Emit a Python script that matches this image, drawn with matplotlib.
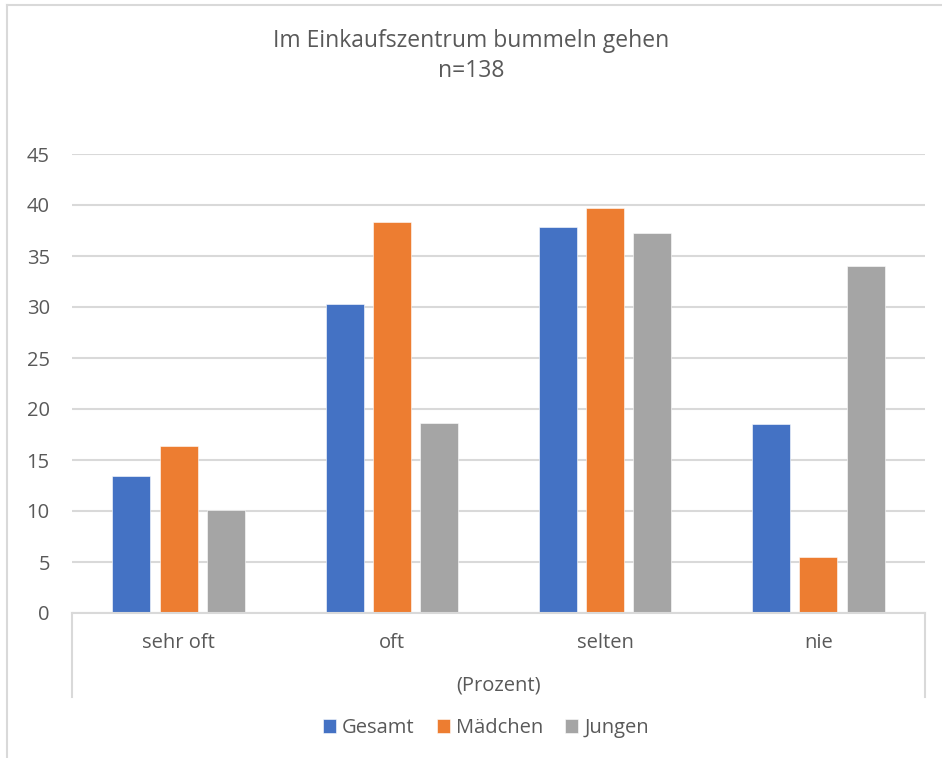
import matplotlib.pyplot as plt
from matplotlib.lines import Line2D
import numpy as np

plt.rcParams['font.family'] = ['Open Sans', 'DejaVu Sans']

title = 'Im Einkaufszentrum bummeln gehen\nn=138'
categories = ['sehr oft', 'oft', 'selten', 'nie']
axis_group = '(Prozent)'
series_names = ['Gesamt', 'Mädchen', 'Jungen']
gesamt = [13.4, 30.3, 37.8, 18.5]
maedchen = [16.4, 38.3, 39.7, 5.5]
jungen = [10.1, 18.6, 37.3, 34.0]
y_ticks = list(range(0, 50, 5))

colors = ['#4472c4', '#ed7d31', '#a5a5a5']
grid_color = '#d9d9d9'
text_color = '#595959'

fig = plt.figure(figsize=(9.42, 7.58), dpi=100)
ax = fig.add_axes([72 / 942, 1 - 613 / 758, 853 / 942, 459 / 758])

x = np.arange(len(categories))
offsets = [-0.222, 0.0, 0.222]
width = 0.178
for values, name, color, off in zip([gesamt, maedchen, jungen], series_names, colors, offsets):
    ax.bar(x + off, values, width, color=color, label=name, zorder=3,
           edgecolor='white', linewidth=0.4)

ax.set_xlim(-0.5, len(categories) - 0.5)
ax.set_ylim(0, 45)
ax.set_yticks(y_ticks)
ax.set_yticklabels([str(t) for t in y_ticks])
ax.yaxis.grid(True, color=grid_color, linewidth=1.5, zorder=0)
ax.tick_params(axis='y', length=0, pad=16, labelsize=14.5, labelcolor=text_color)
ax.set_xticks([])
for side in ['top', 'right', 'left']:
    ax.spines[side].set_visible(False)
ax.spines['bottom'].set_color(grid_color)
ax.spines['bottom'].set_linewidth(1.5)
ax.spines['bottom'].set_zorder(4)

# category labels and the group level below
for xi, cat in zip(x, categories):
    ax.text(xi, -30 / 10.2, cat, ha='center', va='center', fontsize=14.5,
            color=text_color)
ax.text((len(categories) - 1) / 2, -72 / 10.2, axis_group, ha='center', va='center',
        fontsize=14.5, color=text_color)
for xe in [-0.5, len(categories) - 0.5]:
    ax.add_line(Line2D([xe, xe], [0, -84 / 10.2], color=grid_color, linewidth=1.5,
                       clip_on=False))

fig.text(0.5, 1 - 56 / 758, title, ha='center', va='center', fontsize=16.5,
         color=text_color, linespacing=1.35)

fig.legend(loc='center', bbox_to_anchor=(486 / 942, 1 - 728 / 758), ncol=3,
           frameon=False, fontsize=14.5, handlelength=0.65, handleheight=0.65,
           handletextpad=0.3, columnspacing=1.1, labelcolor=text_color)

# outer chart frame (left and top edges visible)
fig.add_artist(Line2D([7 / 942, 7 / 942], [0, 1 - 5 / 758], color=grid_color,
                      linewidth=1.5, transform=fig.transFigure))
fig.add_artist(Line2D([7 / 942, 1], [1 - 5 / 758, 1 - 5 / 758], color=grid_color,
                      linewidth=1.5, transform=fig.transFigure))

fig.savefig('out.png', dpi=100)
